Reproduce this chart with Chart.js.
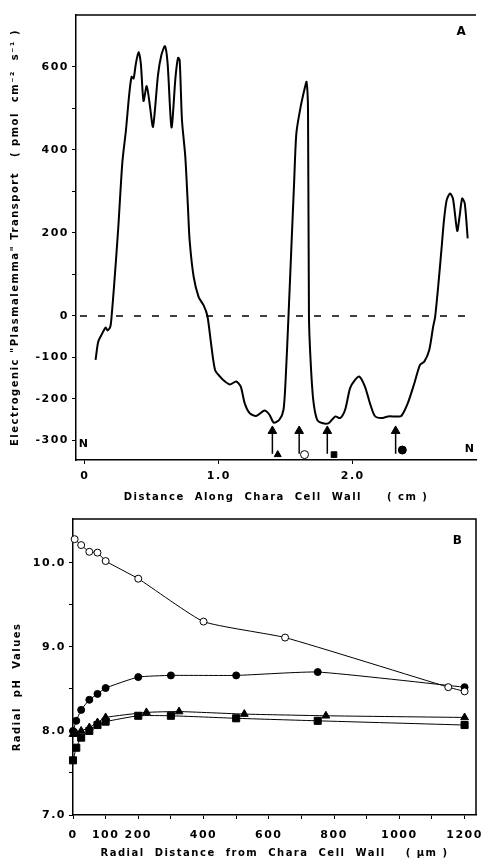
<!DOCTYPE html>
<html>
<head>
<meta charset="utf-8">
<script src="https://cdn.jsdelivr.net/npm/chart.js@4.4.0/dist/chart.umd.min.js"></script>
<style>
  body { margin: 0; background: #fff; }
  canvas { position: absolute; left: 0; }
  #chartA { top: 0; }
  #chartB { top: 505px; }
</style>
</head>
<body>
<canvas id="chartA" width="482" height="510"></canvas>
<canvas id="chartB" width="482" height="359"></canvas>
<script>
// ---- panel A: transport along the cell wall ----
const distanceCm = [0.08, 0.10, 0.13, 0.155, 0.17, 0.19, 0.20, 0.22, 0.25, 0.28, 0.307, 0.332, 0.349, 0.364,
  0.381, 0.401, 0.418, 0.438, 0.462, 0.485, 0.509, 0.546, 0.571, 0.598, 0.618, 0.647, 0.677, 0.696, 0.708,
  0.725, 0.75, 0.77, 0.782, 0.812, 0.849, 0.886, 0.915, 0.942, 0.972, 1.009, 1.046, 1.083, 1.13, 1.164,
  1.193, 1.23, 1.279, 1.341, 1.378, 1.41, 1.452, 1.483, 1.50, 1.52, 1.542, 1.562, 1.579, 1.611, 1.641,
  1.655, 1.666, 1.673, 1.685, 1.705, 1.734, 1.771, 1.821, 1.87, 1.906, 1.943, 1.98, 2.017, 2.049, 2.091,
  2.128, 2.165, 2.214, 2.263, 2.325, 2.362, 2.411, 2.46, 2.502, 2.534, 2.571, 2.60, 2.615, 2.64, 2.664,
  2.681, 2.701, 2.726, 2.748, 2.78, 2.797, 2.817, 2.836, 2.858];
const transport = [-106, -62, -42, -28, -35, -26, 0, 80, 215, 370, 448, 536, 576, 572,
  608, 636, 608, 518, 554, 508, 456, 580, 628, 650, 608, 454, 576, 622, 616,
  472, 383, 260, 183, 95, 46, 26, 0, -66, -130, -146, -158, -165, -158, -170,
  -210, -234, -241, -228, -238, -257, -250, -226, -146, -2, 167, 319, 440, 504, 548,
  564, 496, -2, -106, -202, -250, -258, -258, -242, -246, -226, -174, -154, -146, -170,
  -210, -241, -246, -242, -242, -241, -210, -162, -118, -110, -82, -26, -2, 79, 167,
  231, 279, 295, 283, 205, 239, 283, 271, 187];
const xTicksA = [0, 1, 2];
const yTicksA = [-300, -200, -100, 0, 100, 200, 300, 400, 500, 600];
const yLabelsA = [-300, -200, -100, 0, 200, 400, 600];
const arrowX = [1.40, 1.60, 1.81, 2.32];
const arrowTail = -332;
const arrowTip = -268;
const arrowHead = -277;
const sampleX = [1.44, 1.64, 1.86, 2.37];
const sampleY = [-334, -334, -334, -323];
const sampleStyle = ['triangle', 'circle', 'rect', 'circle'];
const sampleFill = ['#000', '#fff', '#000', '#000'];

// ---- panel B: radial pH profiles ----
const openX = [5, 25, 50, 75, 100, 200, 400, 650, 1150, 1200];
const openPH = [10.28, 10.21, 10.13, 10.12, 10.02, 9.81, 9.30, 9.11, 8.52, 8.47];
const filledX = [0, 10, 25, 50, 75, 100, 200, 300, 500, 750, 1200];
const filledPH = [8.00, 8.12, 8.25, 8.37, 8.44, 8.51, 8.64, 8.66, 8.66, 8.70, 8.52];
const triX = [0, 10, 25, 50, 75, 100, 225, 325, 525, 775, 1200];
const triPH = [7.96, 7.97, 8.00, 8.04, 8.10, 8.16, 8.22, 8.23, 8.20, 8.18, 8.16];
const squareX = [0, 10, 25, 50, 75, 100, 200, 300, 500, 750, 1200];
const squarePH = [7.65, 7.80, 7.92, 8.00, 8.07, 8.11, 8.18, 8.18, 8.15, 8.12, 8.07];
const xTicksB = [0, 100, 200, 300, 400, 500, 600, 700, 800, 900, 1000, 1100, 1200];
const xLabelsB = [0, 100, 200, 400, 600, 800, 1000, 1200];
const yTicksB = [7, 7.5, 8, 8.5, 9, 9.5, 10];

Chart.defaults.font.family = '"DejaVu Sans", sans-serif';
Chart.defaults.color = '#000';

const tickFont = { size: 11, weight: 'bold' };
const titleFont = { size: 10, weight: 'bold' };

// wide printed lettering
const spacing = {
  id: 'spacing',
  afterInit(c) { c.ctx.letterSpacing = '1.5px'; },
  beforeUpdate(c) { c.ctx.letterSpacing = '1.5px'; },
  beforeDraw(c) { c.ctx.letterSpacing = '1.5px'; }
};

function noPad(s) {
  s.paddingLeft = 0; s.paddingRight = 0; s.paddingTop = 0; s.paddingBottom = 0;
}

const decorA = {
  id: 'decorA',
  afterDatasetsDraw(c) {
    const { ctx, chartArea: a, scales: { y } } = c;
    ctx.save();
    ctx.strokeStyle = '#000';
    ctx.lineWidth = 1.5;
    ctx.beginPath(); ctx.moveTo(a.left, a.top); ctx.lineTo(a.right, a.top); ctx.stroke();
    const y0 = y.getPixelForValue(0);
    ctx.setLineDash([7, 11]);
    ctx.beginPath(); ctx.moveTo(a.left + 4, y0); ctx.lineTo(a.right, y0); ctx.stroke();
    ctx.setLineDash([]);
    ctx.fillStyle = '#000';
    ctx.textAlign = 'center';
    ctx.textBaseline = 'middle';
    ctx.font = 'bold 12px "DejaVu Sans"';
    ctx.fillText('A', a.right - 14, a.top + 17);
    ctx.font = 'bold 11px "DejaVu Sans"';
    ctx.fillText('N', a.left + 8, a.bottom - 16);
    ctx.fillText('N', a.right - 6, a.bottom - 11);
    ctx.restore();
  }
};

const decorB = {
  id: 'decorB',
  afterDatasetsDraw(c) {
    const { ctx, chartArea: a } = c;
    ctx.save();
    ctx.strokeStyle = '#000';
    ctx.lineWidth = 1.5;
    ctx.beginPath();
    ctx.moveTo(a.left, a.top); ctx.lineTo(a.right, a.top); ctx.lineTo(a.right, a.bottom);
    ctx.stroke();
    ctx.fillStyle = '#000';
    ctx.textAlign = 'center';
    ctx.textBaseline = 'middle';
    ctx.font = 'bold 12px "DejaVu Sans"';
    ctx.fillText('B', a.right - 18, a.top + 22);
    ctx.restore();
  }
};

const arrowSets = arrowX.map(x => ({
  data: [{ x: x, y: arrowTail }, { x: x, y: arrowTip }],
  borderColor: '#000', borderWidth: 1.5, pointRadius: 0, tension: 0, clip: false
}));

new Chart(document.getElementById('chartA'), {
  type: 'line',
  data: {
    datasets: [
      {
        data: distanceCm.map((x, i) => ({ x: x, y: transport[i] })),
        borderColor: '#000', borderWidth: 2, pointRadius: 0, tension: 0.25, clip: false
      },
      ...arrowSets,
      {
        data: arrowX.map(x => ({ x: x, y: arrowHead })),
        showLine: false, pointStyle: 'triangle', pointRadius: 5,
        pointBackgroundColor: '#000', pointBorderColor: '#000', clip: false
      },
      {
        data: sampleX.map((x, i) => ({ x: x, y: sampleY[i] })),
        showLine: false, pointStyle: sampleStyle, pointRadius: 4,
        pointBackgroundColor: sampleFill, pointBorderColor: '#000', pointBorderWidth: 1, clip: false
      }
    ]
  },
  options: {
    responsive: false,
    animation: false,
    plugins: { legend: { display: false }, tooltip: { enabled: false } },
    layout: { padding: { top: 15, right: 1, left: 0, bottom: 0 } },
    scales: {
      x: {
        type: 'linear', min: -0.066, max: 2.92,
        afterBuildTicks: s => { s.ticks = xTicksA.map(v => ({ value: v })); },
        afterFit: s => { s.height = 50; noPad(s); },
        grid: { drawOnChartArea: false, color: '#000', tickLength: 4 },
        border: { color: '#000', width: 1.5 },
        ticks: {
          font: tickFont, padding: 6, maxRotation: 0, autoSkip: false,
          callback: v => v === 0 ? '0' : v.toFixed(1)
        },
        title: {
          display: true, text: 'Distance  Along  Chara  Cell  Wall     ( cm )',
          font: titleFont, padding: { top: 0, bottom: 7 }
        }
      },
      y: {
        min: -347, max: 725,
        afterBuildTicks: s => { s.ticks = yTicksA.map(v => ({ value: v })); },
        afterFit: s => { s.width = 76; noPad(s); },
        grid: { drawOnChartArea: false, color: '#000', tickLength: 4 },
        border: { color: '#000', width: 1.5 },
        ticks: {
          font: tickFont, padding: 3, autoSkip: false,
          callback: v => yLabelsA.includes(v) ? String(v) : ''
        },
        title: {
          display: true, text: 'Electrogenic "Plasmalemma" Transport   ( pmol  cm⁻²  s⁻¹ )',
          font: titleFont, padding: { top: 9, bottom: 0 }
        }
      }
    }
  },
  plugins: [spacing, decorA]
});

function series(xs, ys, style, fill, r) {
  return {
    data: xs.map((x, i) => ({ x: x, y: ys[i] })),
    borderColor: '#000', borderWidth: 1, tension: 0.15,
    pointStyle: style, pointRadius: r,
    pointBackgroundColor: fill, pointBorderColor: '#000', pointBorderWidth: 1, clip: false
  };
}

new Chart(document.getElementById('chartB'), {
  type: 'line',
  data: {
    datasets: [
      series(openX, openPH, 'circle', '#fff', 3.5),
      series(filledX, filledPH, 'circle', '#000', 3.5),
      series(triX, triPH, 'triangle', '#000', 4.5),
      series(squareX, squarePH, 'rect', '#000', 5)
    ]
  },
  options: {
    responsive: false,
    animation: false,
    plugins: { legend: { display: false }, tooltip: { enabled: false } },
    layout: { padding: { top: 14, right: 1, left: 0, bottom: 0 } },
    scales: {
      x: {
        type: 'linear', min: 0, max: 1235,
        afterBuildTicks: s => { s.ticks = xTicksB.map(v => ({ value: v })); },
        afterFit: s => { s.height = 49; noPad(s); },
        grid: { drawOnChartArea: false, color: '#000', tickLength: 4 },
        border: { color: '#000', width: 1.5 },
        ticks: {
          font: tickFont, padding: 10, maxRotation: 0, autoSkip: false,
          callback: v => xLabelsB.includes(v) ? String(v) : ''
        },
        title: {
          display: true, text: 'Radial  Distance  from  Chara  Cell  Wall    ( µm )',
          font: titleFont, padding: { top: 0, bottom: 5 }
        }
      },
      y: {
        min: 7, max: 10.52,
        afterBuildTicks: s => { s.ticks = yTicksB.map(v => ({ value: v })); },
        afterFit: s => { s.width = 73; noPad(s); },
        grid: { drawOnChartArea: false, color: '#000', tickLength: 4 },
        border: { color: '#000', width: 1.5 },
        ticks: {
          font: tickFont, padding: 3, autoSkip: false,
          callback: v => Number.isInteger(v) ? v.toFixed(1) : ''
        },
        title: {
          display: true, text: 'Radial  pH  Values        ',
          font: titleFont, padding: { top: 11, bottom: 0 }
        }
      }
    }
  },
  plugins: [spacing, decorB]
});
</script>
</body>
</html>
